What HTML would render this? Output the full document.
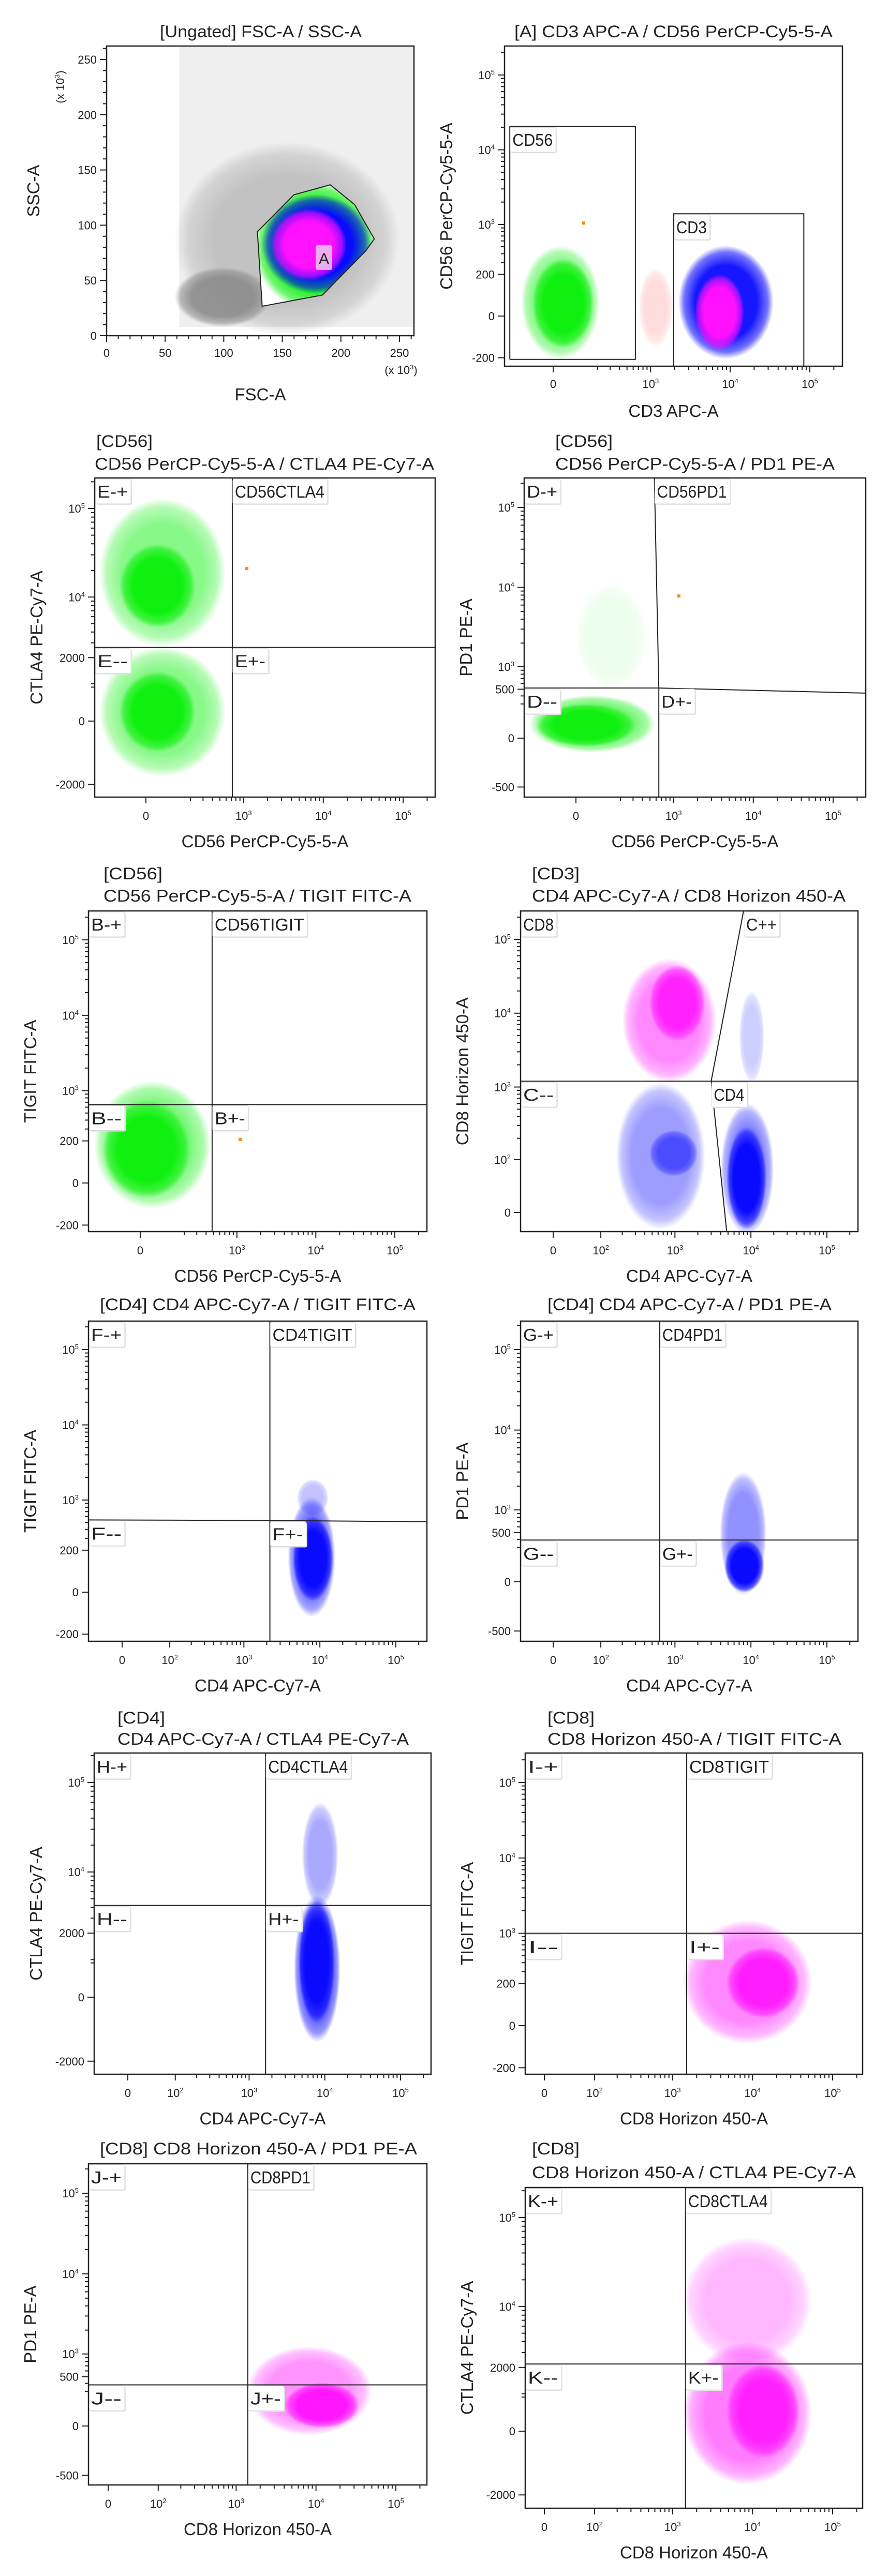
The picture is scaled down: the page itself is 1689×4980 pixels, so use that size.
<!DOCTYPE html>
<html><head><meta charset="utf-8">
<style>
body{margin:0;background:#fff}
svg{display:block}
text{font-family:"Liberation Sans","DejaVu Sans",sans-serif;fill:#222}
</style></head>
<body>
<svg id="fig" width="1689" height="4980" viewBox="0 0 1689 4980">
<defs id="defs"></defs>
</svg>
<script>
// ---------- tick data ----------
const linTicks = [0, 50, 100, 150, 200, 250];
const linTickLabels = ['0', '50', '100', '150', '200', '250'];
const xTicksDec = [0, 1e3, 1e4, 1e5];
const xTicksDecLabels = ['0', '10^3', '10^4', '10^5'];
const xTicks100 = [0, 1e2, 1e3, 1e4, 1e5];
const xTicks100Labels = ['0', '10^2', '10^3', '10^4', '10^5'];
const yTicks200 = [-200, 0, 200, 1e3, 1e4, 1e5];
const yTicks200Labels = ['-200', '0', '200', '10^3', '10^4', '10^5'];
const yTicks500 = [-500, 0, 500, 1e3, 1e4, 1e5];
const yTicks500Labels = ['-500', '0', '500', '10^3', '10^4', '10^5'];
const yTicks2000 = [-2000, 0, 2000, 1e4, 1e5];
const yTicks2000Labels = ['-2000', '0', '2000', '10^4', '10^5'];

// ---------- population data (value extents [low, high]) ----------
const p1X = [[58, 250], [58, 140]];
const p1Y = [[0, 175], [8, 62]];
const p1SparseX = [62, 262];
const p1SparseY = [8, 262];
const p1GatedX = [[125, 232], [132, 226], [140, 205]];
const p1GatedY = [[22, 140], [38, 128], [50, 115]];
const p1Gate = [[128.7, 94.1], [159.8, 127.5], [190.9, 136.6], [211.7, 118.7], [228.5, 87.6], [221.3, 76.9], [184.2, 36.8], [132.8, 26.7]];

const p2X = [[-128, 215], [-76, 177], [710, 1890], [2235, 35000], [3600, 15000]];
const p2Y = [[-209, 520], [-139, 342], [-130, 250], [-209, 520], [-153, 200]];
const p2GateCD56 = [[-193, -212], [640, -212], [640, 20600], [-193, 20600], [-193, -212]];
const p2GateCD3 = [[1950, -271], [84000, -271], [84000, 1395], [1950, 1395], [1950, -271]];
const p2Dot = [120, 1045];

const p3X = [[-215, 590], [-100, 235], [-215, 590], [-100, 235]];
const p3Y = [[2700, 130000], [4500, 40000], [-1600, 2700], [-720, 1350]];
const p3Cross = [720, 2650];
const p3Dot = [1100, 21000];

const p4X = [[0, 450], [-215, 580], [-170, 320]];
const p4Y = [[500, 11000], [-110, 410], [-65, 300]];
const p4Vert = [[570, Infinity], [650, 520], [650, -Infinity]];
const p4Horz = [[-Infinity, 520], [650, 520], [Infinity, 440]];
const p4Dot = [1165, 7800];

const p5X = [[-215, 460], [-160, 245]];
const p5Y = [[-103, 1350], [-58, 750]];
const p5Cross = [480, 650];
const p5Dot = [1100, 210];

const p6X = [[200, 3500], [460, 2500], [165, 2500], [460, 2000], [7000, 15000], [4000, 20000], [4800, 16000]];
const p6Y = [[1150, 55000], [4200, 45000], [-22, 1150], [55, 260], [1150, 20000], [-30, 600], [-22, 290]];
const p6Horz = [[-Infinity, 1200], [Infinity, 1200]];
const p6Slant = [[8000, Infinity], [3000, 1200], [4800, -Infinity]];

const p7X = [[5000, 13000], [3800, 16000], [4400, 15000]];
const p7Y = [[600, 1900], [-100, 1100], [-33, 600]];
const p7Vert = [[2200, Infinity], [2200, -Infinity]];
const p7Horz = [[-Infinity, 540], [2200, 530], [Infinity, 510]];

const p8X = [[3900, 16000], [4500, 15000]];
const p8Y = [[-105, 3000], [-80, 400]];
const p8Cross = [630, 390];

const p9X = [[5000, 15000], [3900, 16000], [4500, 13500]];
const p9Y = [[4000, 60000], [-1150, 5500], [-570, 4800]];
const p9Cross = [1650, 4200];

const p10X = [[1350, 55000], [4700, 39000]];
const p10Y = [[-70, 1500], [28, 650]];
const p10Cross = [1500, 1000];

const p11X = [[1350, 50000], [4000, 35000]];
const p11Y = [[-70, 1250], [-15, 410]];
const p11Cross = [1400, 380];

const p12X = [[1350, 55000], [1350, 55000], [4700, 39000]];
const p12Y = [[2200, 60000], [-1500, 4000], [-600, 2200]];
const p12Cross = [1450, 2200];

// ---------- helpers ----------
const NS = 'http://www.w3.org/2000/svg';
const svg = document.getElementById('fig');
const defs = document.getElementById('defs');
function el(tag, parent) { const e = document.createElementNS(NS, tag); parent.appendChild(e); return e; }
function biex(W, p0, p1) { const U = Math.asinh(1e5 / (2 * W)); return v => p0 + Math.asinh(v / (2 * W)) / U * (p1 - p0); }
function linear(v1, p0, p1) { return v => p0 + v / v1 * (p1 - p0); }

const COLORS = { green: '#10f010', blue: '#0a0aff', magenta: '#ff10ff', gray: '#8a8a8a', red: '#ff5050' };
for (const k in COLORS) {
  const g = el('radialGradient', defs); g.setAttribute('id', 'gr-' + k);
  [[0, 1], [0.65, 1], [0.88, 0.6], [1, 0]].forEach(s => {
    const st = el('stop', g); st.setAttribute('offset', s[0]); st.setAttribute('stop-color', COLORS[k]); st.setAttribute('stop-opacity', s[1]);
  });
}

let clipN = 0;
function clampPt(b, x, y) {
  return [Math.max(b[0], Math.min(b[2], x)), Math.max(b[1], Math.min(b[3], y))];
}

function drawPops(g, P, X, Y, cols, alphas) {
  for (let i = 0; i < X.length; i++) {
    const x0 = P.xs(X[i][0]), x1 = P.xs(X[i][1]), y0 = P.ys(Y[i][0]), y1 = P.ys(Y[i][1]);
    const e = el('ellipse', g);
    
    
    e.setAttribute('cx', (x0 + x1) / 2); e.setAttribute('cy', (y0 + y1) / 2);
    e.setAttribute('rx', Math.abs(x1 - x0) / 2); e.setAttribute('ry', Math.abs(y1 - y0) / 2);
    e.setAttribute('fill', 'url(#gr-' + cols[i] + ')');
    e.setAttribute('opacity', alphas[i]);
  }
}

function drawLine(g, P, pts, w) {
  const pl = el('polyline', g);
  
  
  pl.setAttribute('points', pts.map(p => clampPt(P.box, P.xs(p[0]), P.ys(p[1])).join(',')).join(' '));
  pl.setAttribute('fill', 'none'); pl.setAttribute('stroke', '#222'); pl.setAttribute('stroke-width', w || 2);
}
function drawCross(g, P, c) {
  drawLine(g, P, [[c[0], Infinity], [c[0], -Infinity]]);
  drawLine(g, P, [[-Infinity, c[1]], [Infinity, c[1]]]);
}
function drawDot(g, P, d) {
  const r = el('rect', g);
  
  
  r.setAttribute('x', P.xs(d[0]) - 3); r.setAttribute('y', P.ys(d[1]) - 3);
  r.setAttribute('width', 6); r.setAttribute('height', 6); r.setAttribute('fill', '#ff8a00');
}
function gateLabel(g, P, text, xv, yv) {
  const p = clampPt(P.box, P.xs(xv), P.ys(yv));
  const w = text.length * 19 + 12;
  const grp = el('g', g);
  
  
  const sh = el('rect', grp);
  sh.setAttribute('x', p[0] + 3); sh.setAttribute('y', p[1] + 4); sh.setAttribute('width', w); sh.setAttribute('height', 48);
  sh.setAttribute('fill', '#e4e4e4'); sh.setAttribute('rx', 3);
  const r = el('rect', grp);
  r.setAttribute('x', p[0] + 1); r.setAttribute('y', p[1] + 2); r.setAttribute('width', w); r.setAttribute('height', 48);
  r.setAttribute('fill', '#fff'); r.setAttribute('stroke', '#d8d8d8'); r.setAttribute('rx', 3);
  const t = el('text', grp);
  t.setAttribute('x', p[0] + 5); t.setAttribute('y', p[1] + 38);
  t.setAttribute('font-size', 33); t.setAttribute('textLength', w - 10); t.setAttribute('lengthAdjust', 'spacingAndGlyphs');
  t.textContent = text;
}
function tickText(g, x, y, label, anchor, name) {
  const t = el('text', g);
  
  
  t.setAttribute('x', x); t.setAttribute('y', y); t.setAttribute('font-size', 22); t.setAttribute('text-anchor', anchor);
  if (label.indexOf('^') >= 0) {
    const parts = label.split('^');
    t.appendChild(document.createTextNode(parts[0]));
    const s = el('tspan', t); s.setAttribute('font-size', 13); s.setAttribute('dy', -9); s.textContent = parts[1];
  } else t.textContent = label;
}
function minorVals(P, axis) {
  const out = [];
  if (P[axis + 'lin']) { for (let v = 0; v <= 260; v += 10) out.push(v); return out; }
  const W = P[axis + 'W'];
  for (let k = 2; k <= 5; k++) for (let m = 2; m <= 9; m++) { const v = m * Math.pow(10, k); if (v >= 2 * W) out.push(v); }
  return out;
}

function drawPanel(P) {
  const g = el('g', svg);
  
  
  const b = P.box;
  const cid = 'clip' + (clipN++);
  const cp = el('clipPath', defs); cp.setAttribute('id', cid);
  const cr = el('rect', cp); cr.setAttribute('x', b[0]); cr.setAttribute('y', b[1]); cr.setAttribute('width', b[2] - b[0]); cr.setAttribute('height', b[3] - b[1]);
  const plot = el('g', g);
  
  
  plot.setAttribute('clip-path', 'url(#' + cid + ')');
  P.content(plot, P);
  const fr = el('rect', g);
  
  
  fr.setAttribute('x', b[0]); fr.setAttribute('y', b[1]); fr.setAttribute('width', b[2] - b[0]); fr.setAttribute('height', b[3] - b[1]);
  fr.setAttribute('fill', 'none'); fr.setAttribute('stroke', '#222'); fr.setAttribute('stroke-width', 2.5);
  const tg = el('g', g);
  
  
  let d = '';
  P.xTicks.forEach(v => { const x = P.xs(v); d += `M${x},${b[3]}v12`; });
  minorVals(P, 'x').forEach(v => { const x = P.xs(v); if (x > b[0] && x < b[2]) d += `M${x},${b[3]}v7`; });
  P.yTicks.forEach(v => { const y = P.ys(v); d += `M${b[0]},${y}h-13`; });
  minorVals(P, 'y').forEach(v => { const y = P.ys(v); if (y > b[1] && y < b[3]) d += `M${b[0]},${y}h-7`; });
  const tp = el('path', tg); tp.setAttribute('d', d); tp.setAttribute('stroke', '#222'); tp.setAttribute('stroke-width', 2); tp.setAttribute('fill', 'none');
  P.xTicks.forEach((v, i) => tickText(g, P.xs(v), b[3] + P.xtl, P.xLabels[i], 'middle', 'x-tick-label'));
  P.yTicks.forEach((v, i) => tickText(g, b[0] - 19, P.ys(v) + 8, P.yLabels[i], 'end', 'y-tick-label'));
  P.titles.forEach(T => {
    const t = el('text', g);
    
    
    t.setAttribute('x', T[1]); t.setAttribute('y', T[2] + 11); t.setAttribute('font-size', 32);
    t.setAttribute('textLength', T[3]); t.setAttribute('lengthAdjust', 'spacingAndGlyphs');
    t.textContent = T[0];
  });
  const xt = el('text', g);
  
  
  xt.setAttribute('x', (b[0] + b[2]) / 2); xt.setAttribute('y', b[3] + P.xto + 11); xt.setAttribute('font-size', 33); xt.setAttribute('text-anchor', 'middle');
  xt.textContent = P.xTitle;
  const yt = el('text', g);
  
  
  const yx = b[0] - P.yto, yy = (b[1] + b[3]) / 2;
  yt.setAttribute('transform', `translate(${yx + 11},${yy}) rotate(-90)`);
  yt.setAttribute('font-size', 33); yt.setAttribute('text-anchor', 'middle');
  yt.textContent = P.yTitle;
  if (P.extra) P.extra(g, P);
}

const base = { xtl: 44, xto: 86, yto: 112 };
function panel(o) { return Object.assign({}, base, o); }

const panels = [
  panel({ name: 'fsc-ssc-plot', box: [206, 89, 800, 649], xlin: true, ylin: true,
    xs: linear(250, 206, 772), ys: linear(250, 649, 115), xtl: 41, xto: 114, yto: 141,
    xTicks: linTicks, xLabels: linTickLabels, yTicks: linTicks, yLabels: linTickLabels,
    titles: [['[Ungated] FSC-A / SSC-A', 309, 61, 390]], xTitle: 'FSC-A', yTitle: 'SSC-A',
    content: (g, P) => {
      const r = el('rect', g);
       
      r.setAttribute('x', P.xs(p1SparseX[0])); r.setAttribute('y', P.ys(p1SparseY[1]));
      r.setAttribute('width', P.xs(p1SparseX[1]) - P.xs(p1SparseX[0])); r.setAttribute('height', P.ys(p1SparseY[0]) - P.ys(p1SparseY[1]));
      r.setAttribute('fill', '#9a9a9a'); r.setAttribute('opacity', 0.16);
      drawPops(g, P, p1X, p1Y, ['gray', 'gray'], [0.45, 0.9]);
      const pts = p1Gate.map(p => P.xs(p[0]) + ',' + P.ys(p[1])).join(' ');
      const cp = el('clipPath', defs); cp.setAttribute('id', 'gateA');
      const cpp = el('polygon', cp); cpp.setAttribute('points', pts);
      const wpoly = el('polygon', g); wpoly.setAttribute('points', pts); wpoly.setAttribute('fill', '#fff');
      const gg = el('g', g); gg.setAttribute('clip-path', 'url(#gateA)');
       
      drawPops(gg, P, p1GatedX, p1GatedY, ['green', 'blue', 'magenta'], [1, 1, 1]);
      const gp = el('polygon', g);
       
      gp.setAttribute('points', pts); gp.setAttribute('fill', 'none'); gp.setAttribute('stroke', '#222'); gp.setAttribute('stroke-width', 2);
      const lb = el('rect', g);
       
      lb.setAttribute('x', 610); lb.setAttribute('y', 474); lb.setAttribute('width', 32); lb.setAttribute('height', 48);
      lb.setAttribute('rx', 4); lb.setAttribute('fill', '#e8c8f0'); lb.setAttribute('opacity', 0.85);
      const lt = el('text', g);
       
      lt.setAttribute('x', 626); lt.setAttribute('y', 510); lt.setAttribute('font-size', 30); lt.setAttribute('text-anchor', 'middle');
      lt.textContent = 'A';
    },
    extra: (g, P) => {
      const t1 = el('text', g);
       
      t1.setAttribute('x', 775); t1.setAttribute('y', 723); t1.setAttribute('font-size', 22); t1.setAttribute('text-anchor', 'middle');
      t1.appendChild(document.createTextNode('(x 10'));
      const s1 = el('tspan', t1); s1.setAttribute('font-size', 13); s1.setAttribute('dy', -9); s1.textContent = '3';
      const s1b = el('tspan', t1); s1b.setAttribute('dy', 9); s1b.textContent = ')';
      const t2 = el('text', g);
       
      t2.setAttribute('transform', 'translate(124,168) rotate(-90)'); t2.setAttribute('font-size', 22); t2.setAttribute('text-anchor', 'middle');
      t2.appendChild(document.createTextNode('(x 10'));
      const s2 = el('tspan', t2); s2.setAttribute('font-size', 13); s2.setAttribute('dy', -9); s2.textContent = '3';
      const s2b = el('tspan', t2); s2b.setAttribute('dy', 9); s2b.textContent = ')';
    } }),
  panel({ name: 'cd3-cd56-plot', box: [975, 89, 1628, 708], xW: 60, yW: 60,
    xs: biex(60, 1069, 1565), ys: biex(60, 611, 145), xtl: 42, xto: 87,
    xTicks: xTicksDec, xLabels: xTicksDecLabels, yTicks: yTicks200, yLabels: yTicks200Labels,
    titles: [['[A] CD3 APC-A / CD56 PerCP-Cy5-5-A', 994, 61, 615]], xTitle: 'CD3 APC-A', yTitle: 'CD56 PerCP-Cy5-5-A',
    content: (g, P) => {
      drawPops(g, P, p2X, p2Y, ['green', 'green', 'red', 'blue', 'magenta'], [0.55, 1, 0.2, 0.95, 1]);
      drawLine(g, P, p2GateCD56); drawLine(g, P, p2GateCD3);
      drawDot(g, P, p2Dot);
      gateLabel(g, P, 'CD56', p2GateCD56[0][0], p2GateCD56[2][1]);
      gateLabel(g, P, 'CD3', p2GateCD3[0][0], p2GateCD3[2][1]);
    } }),
  panel({ name: 'cd56-ctla4-plot', box: [183, 924, 841, 1541], xW: 60, yW: 400,
    xs: biex(60, 282, 779), ys: biex(400, 1394, 983),
    xTicks: xTicksDec, xLabels: xTicksDecLabels, yTicks: yTicks2000, yLabels: yTicks2000Labels,
    titles: [['[CD56]', 186, 853, 109], ['CD56 PerCP-Cy5-5-A / CTLA4 PE-Cy7-A', 183, 897, 656]],
    xTitle: 'CD56 PerCP-Cy5-5-A', yTitle: 'CTLA4 PE-Cy7-A',
    content: (g, P) => {
      drawPops(g, P, p3X, p3Y, ['green', 'green', 'green', 'green'], [0.5, 1, 0.5, 1]);
      drawCross(g, P, p3Cross); drawDot(g, P, p3Dot);
      gateLabel(g, P, 'E-+', -Infinity, Infinity); gateLabel(g, P, 'CD56CTLA4', p3Cross[0], Infinity);
      gateLabel(g, P, 'E--', -Infinity, p3Cross[1]); gateLabel(g, P, 'E+-', p3Cross[0], p3Cross[1]);
    } }),
  panel({ name: 'cd56-pd1-plot', box: [1013, 924, 1673, 1541], xW: 60, yW: 130,
    xs: biex(60, 1113, 1610), ys: biex(130, 1427, 981),
    xTicks: xTicksDec, xLabels: xTicksDecLabels, yTicks: yTicks500, yLabels: yTicks500Labels,
    titles: [['[CD56]', 1073, 853, 111], ['CD56 PerCP-Cy5-5-A / PD1 PE-A', 1073, 897, 540]],
    xTitle: 'CD56 PerCP-Cy5-5-A', yTitle: 'PD1 PE-A',
    content: (g, P) => {
      drawPops(g, P, p4X, p4Y, ['green', 'green', 'green'], [0.08, 0.6, 1]);
      drawLine(g, P, p4Vert); drawLine(g, P, p4Horz); drawDot(g, P, p4Dot);
      gateLabel(g, P, 'D-+', -Infinity, Infinity); gateLabel(g, P, 'CD56PD1', p4Vert[0][0], Infinity);
      gateLabel(g, P, 'D--', -Infinity, p4Horz[0][1]); gateLabel(g, P, 'D+-', p4Horz[1][0], p4Horz[1][1]);
    } }),
  panel({ name: 'cd56-tigit-plot', box: [171, 1761, 825, 2381], xW: 60, yW: 60,
    xs: biex(60, 271, 763), ys: biex(60, 2287, 1817),
    xTicks: xTicksDec, xLabels: xTicksDecLabels, yTicks: yTicks200, yLabels: yTicks200Labels,
    titles: [['[CD56]', 200, 1689, 114], ['CD56 PerCP-Cy5-5-A / TIGIT FITC-A', 200, 1732, 595]],
    xTitle: 'CD56 PerCP-Cy5-5-A', yTitle: 'TIGIT FITC-A',
    content: (g, P) => {
      drawPops(g, P, p5X, p5Y, ['green', 'green'], [0.55, 1]);
      drawCross(g, P, p5Cross); drawDot(g, P, p5Dot);
      gateLabel(g, P, 'B-+', -Infinity, Infinity); gateLabel(g, P, 'CD56TIGIT', p5Cross[0], Infinity);
      gateLabel(g, P, 'B--', -Infinity, p5Cross[1]); gateLabel(g, P, 'B+-', p5Cross[0], p5Cross[1]);
    } }),
  panel({ name: 'cd4-cd8-plot', box: [1006, 1761, 1658, 2381], xW: 25, yW: 20,
    xs: biex(25, 1069, 1598), ys: biex(20, 2344, 1816),
    xTicks: xTicks100, xLabels: xTicks100Labels, yTicks: xTicks100, yLabels: xTicks100Labels,
    titles: [['[CD3]', 1028, 1689, 92], ['CD4 APC-Cy7-A / CD8 Horizon 450-A', 1028, 1732, 606]],
    xTitle: 'CD4 APC-Cy7-A', yTitle: 'CD8 Horizon 450-A',
    content: (g, P) => {
      drawPops(g, P, p6X, p6Y, ['magenta', 'magenta', 'blue', 'blue', 'blue', 'blue', 'blue'], [0.5, 0.85, 0.4, 0.55, 0.2, 0.5, 1]);
      drawLine(g, P, p6Horz); drawLine(g, P, p6Slant);
      gateLabel(g, P, 'CD8', -Infinity, Infinity); gateLabel(g, P, 'C++', p6Slant[0][0], Infinity);
      gateLabel(g, P, 'C--', -Infinity, p6Horz[0][1]); gateLabel(g, P, 'CD4', p6Slant[1][0], p6Slant[1][1]);
    } }),
  panel({ name: 'cd4-tigit-plot', box: [171, 2554, 825, 3173], xW: 25, yW: 60,
    xs: biex(25, 236, 765), ys: biex(60, 3078, 2609),
    xTicks: xTicks100, xLabels: xTicks100Labels, yTicks: yTicks200, yLabels: yTicks200Labels,
    titles: [['[CD4] CD4 APC-Cy7-A / TIGIT FITC-A', 193, 2522, 610]],
    xTitle: 'CD4 APC-Cy7-A', yTitle: 'TIGIT FITC-A',
    content: (g, P) => {
      drawPops(g, P, p7X, p7Y, ['blue', 'blue', 'blue'], [0.25, 0.6, 1]);
      drawLine(g, P, p7Vert); drawLine(g, P, p7Horz);
      gateLabel(g, P, 'F-+', -Infinity, Infinity); gateLabel(g, P, 'CD4TIGIT', p7Vert[0][0], Infinity);
      gateLabel(g, P, 'F--', -Infinity, p7Horz[0][1]); gateLabel(g, P, 'F+-', p7Horz[1][0], p7Horz[1][1]);
    } }),
  panel({ name: 'cd4-pd1-plot', box: [1006, 2554, 1658, 3173], xW: 25, yW: 130,
    xs: biex(25, 1069, 1598), ys: biex(130, 3058, 2609),
    xTicks: xTicks100, xLabels: xTicks100Labels, yTicks: yTicks500, yLabels: yTicks500Labels,
    titles: [['[CD4] CD4 APC-Cy7-A / PD1 PE-A', 1058, 2522, 549]],
    xTitle: 'CD4 APC-Cy7-A', yTitle: 'PD1 PE-A',
    content: (g, P) => {
      drawPops(g, P, p8X, p8Y, ['blue', 'blue'], [0.45, 1]);
      drawCross(g, P, p8Cross);
      gateLabel(g, P, 'G-+', -Infinity, Infinity); gateLabel(g, P, 'CD4PD1', p8Cross[0], Infinity);
      gateLabel(g, P, 'G--', -Infinity, p8Cross[1]); gateLabel(g, P, 'G+-', p8Cross[0], p8Cross[1]);
    } }),
  panel({ name: 'cd4-ctla4-plot', box: [182, 3389, 833, 4010], xW: 25, yW: 400,
    xs: biex(25, 247, 774), ys: biex(400, 3861, 3446),
    xTicks: xTicks100, xLabels: xTicks100Labels, yTicks: yTicks2000, yLabels: yTicks2000Labels,
    titles: [['[CD4]', 227, 3321, 92], ['CD4 APC-Cy7-A / CTLA4 PE-Cy7-A', 227, 3362, 563]],
    xTitle: 'CD4 APC-Cy7-A', yTitle: 'CTLA4 PE-Cy7-A',
    content: (g, P) => {
      drawPops(g, P, p9X, p9Y, ['blue', 'blue', 'blue'], [0.35, 0.7, 1]);
      drawCross(g, P, p9Cross);
      gateLabel(g, P, 'H-+', -Infinity, Infinity); gateLabel(g, P, 'CD4CTLA4', p9Cross[0], Infinity);
      gateLabel(g, P, 'H--', -Infinity, p9Cross[1]); gateLabel(g, P, 'H+-', p9Cross[0], p9Cross[1]);
    } }),
  panel({ name: 'cd8-tigit-plot', box: [1015, 3389, 1667, 4010], xW: 25, yW: 60,
    xs: biex(25, 1052, 1609), ys: biex(60, 3916, 3446),
    xTicks: xTicks100, xLabels: xTicks100Labels, yTicks: yTicks200, yLabels: yTicks200Labels,
    titles: [['[CD8]', 1058, 3321, 91], ['CD8 Horizon 450-A / TIGIT FITC-A', 1058, 3362, 568]],
    xTitle: 'CD8 Horizon 450-A', yTitle: 'TIGIT FITC-A',
    content: (g, P) => {
      drawPops(g, P, p10X, p10Y, ['magenta', 'magenta'], [0.5, 0.9]);
      drawCross(g, P, p10Cross);
      gateLabel(g, P, 'I-+', -Infinity, Infinity); gateLabel(g, P, 'CD8TIGIT', p10Cross[0], Infinity);
      gateLabel(g, P, 'I--', -Infinity, p10Cross[1]); gateLabel(g, P, 'I+-', p10Cross[0], p10Cross[1]);
    } }),
  panel({ name: 'cd8-pd1-plot', box: [171, 4183, 825, 4804], xW: 25, yW: 130,
    xs: biex(25, 209, 765), ys: biex(130, 4690, 4240),
    xTicks: xTicks100, xLabels: xTicks100Labels, yTicks: yTicks500, yLabels: yTicks500Labels,
    titles: [['[CD8] CD8 Horizon 450-A / PD1 PE-A', 193, 4154, 613]],
    xTitle: 'CD8 Horizon 450-A', yTitle: 'PD1 PE-A',
    content: (g, P) => {
      drawPops(g, P, p11X, p11Y, ['magenta', 'magenta'], [0.45, 0.95]);
      drawCross(g, P, p11Cross);
      gateLabel(g, P, 'J-+', -Infinity, Infinity); gateLabel(g, P, 'CD8PD1', p11Cross[0], Infinity);
      gateLabel(g, P, 'J--', -Infinity, p11Cross[1]); gateLabel(g, P, 'J+-', p11Cross[0], p11Cross[1]);
    } }),
  panel({ name: 'cd8-ctla4-plot', box: [1015, 4229, 1667, 4849], xW: 25, yW: 400,
    xs: biex(25, 1052, 1609), ys: biex(400, 4700, 4287),
    xTicks: xTicks100, xLabels: xTicks100Labels, yTicks: yTicks2000, yLabels: yTicks2000Labels,
    titles: [['[CD8]', 1028, 4154, 92], ['CD8 Horizon 450-A / CTLA4 PE-Cy7-A', 1028, 4200, 626]],
    xTitle: 'CD8 Horizon 450-A', yTitle: 'CTLA4 PE-Cy7-A',
    content: (g, P) => {
      drawPops(g, P, p12X, p12Y, ['magenta', 'magenta', 'magenta'], [0.3, 0.55, 0.85]);
      drawCross(g, P, p12Cross);
      gateLabel(g, P, 'K-+', -Infinity, Infinity); gateLabel(g, P, 'CD8CTLA4', p12Cross[0], Infinity);
      gateLabel(g, P, 'K--', -Infinity, p12Cross[1]); gateLabel(g, P, 'K+-', p12Cross[0], p12Cross[1]);
    } })
];
panels.forEach(drawPanel);
</script>
</body></html>
